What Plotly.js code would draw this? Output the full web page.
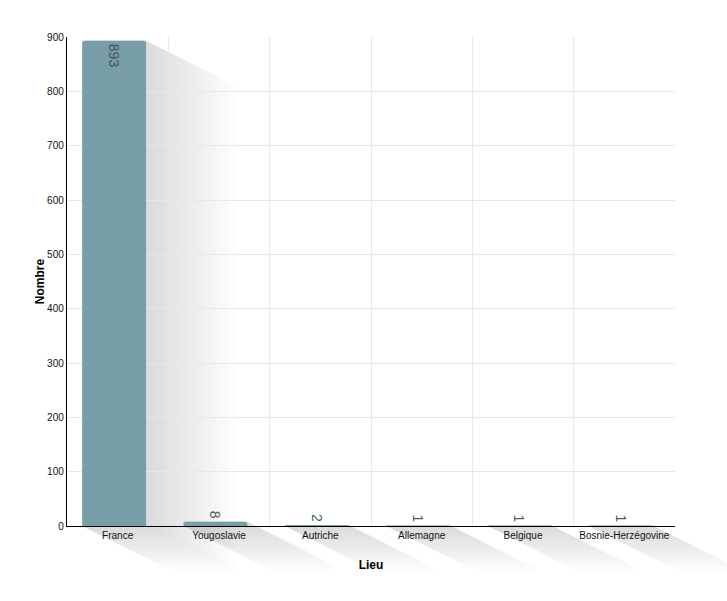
<!DOCTYPE html>
<html><head><meta charset="utf-8">
<script src="https://cdn.plot.ly/plotly-3.0.1.min.js"></script>
<style>html,body{margin:0;padding:0;background:#fff}</style>
</head><body><div id="chart" style="width:727px;height:601px"></div>
<script>
const categories = ["France","Yougoslavie","Autriche","Allemagne","Belgique","Bosnie-Herzégovine"];
const counts = [893, 8, 2, 1, 1, 1];
const yTicks = [0,100,200,300,400,500,600,700,800,900];

const M = {l:67, r:52, t:37, b:75};
const W = 727, H = 601;
const pw = W - M.l - M.r, ph = H - M.t - M.b;
const yMax = 900;
const barW = 0.63, barOff = -0.35;

// decorative drop shadows (paper coords derived from category index / value)
const shapes = [];
const layers = [];
for (let D = 90; D >= 5; D -= 5) layers.push(D);
counts.forEach((v, i) => {
  const x0 = (i + 0.5 + barOff) / categories.length;
  const x1 = (i + 0.5 + barOff + barW) / categories.length;
  const yt = v / yMax, yb = 0;
  layers.forEach(D => {
    const dx = D / pw, dy = (D / 2) / ph;
    shapes.push({
      type: 'path', xref: 'paper', yref: 'paper', layer: 'below',
      path: `M ${x0} ${yb} L ${x0+dx} ${yb-dy} L ${x1+dx} ${yb-dy} L ${x1+dx} ${yt-dy} L ${x1} ${yt} L ${x0} ${yt} Z`,
      fillcolor: 'rgba(150,162,170,0.018)', line: {width: 0}
    });
  });
});

const trace = {
  type: 'bar', x: categories, y: counts,
  text: counts.map(String), textangle: 90,
  textposition: counts.map(v => v > 100 ? 'inside' : 'outside'),
  insidetextanchor: 'end',
  insidetextfont: {family: 'Liberation Sans, Arial', size: 14, color: 'rgba(60,78,84,0.95)'},
  outsidetextfont: {family: 'Liberation Sans, Arial', size: 14, color: 'rgba(60,78,84,0.95)'},
  cliponaxis: false,
  width: barW, offset: barOff,
  marker: {color: '#789ea8', cornerradius: 3, line: {width: 0}},
  hoverinfo: 'x+y'
};

const layout = {
  width: W, height: H, margin: M,
  paper_bgcolor: '#fff', plot_bgcolor: '#fff',
  font: {family: 'Liberation Sans, Arial, sans-serif', size: 10, color: '#222'},
  showlegend: false,
  shapes: shapes,
  xaxis: {
    type: 'category', range: [-0.5, 5.5], tickson: 'boundaries',
    showgrid: true, gridcolor: '#e8e8e8', gridwidth: 1,
    showline: true, linecolor: '#000', linewidth: 1.2,
    ticks: '', tickfont: {size: 10, color: '#111'},
    title: {text: 'Lieu', font: {size: 12, color: '#000', weight: 'bold'}, standoff: 20}
  },
  yaxis: {
    range: [0, yMax], tickvals: yTicks, ticktext: yTicks.map(String),
    showgrid: true, gridcolor: '#e8e8e8', gridwidth: 1, zeroline: false,
    showline: true, linecolor: '#000', linewidth: 1.2,
    ticks: '', tickfont: {size: 10, color: '#111'},
    title: {text: 'Nombre', font: {size: 12, color: '#000', weight: 'bold'}, standoff: 0}
  }
};
Plotly.newPlot('chart', [trace], layout, {displayModeBar: false, staticPlot: true});
</script></body></html>
